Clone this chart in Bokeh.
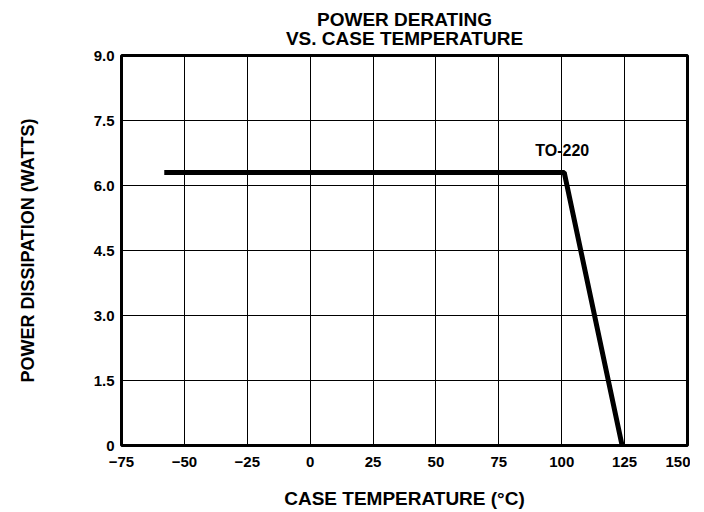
from bokeh.plotting import figure
from bokeh.models import FixedTicker, Title, Range1d
from bokeh.core.properties import value
from bokeh.embed import file_html
from bokeh.resources import INLINE

# data
temp_c = [-58, 101, 124]
power_w = [6.3, 6.3, 0.0]
series_label = "TO-220"
title_lines = ["POWER DERATING", "VS. CASE TEMPERATURE"]
x_ticks = [-75, -50, -25, 0, 25, 50, 75, 100, 125, 150]
y_ticks = [0, 1.5, 3.0, 4.5, 6.0, 7.5, 9.0]
y_tick_labels = ["0", "1.5", "3.0", "4.5", "6.0", "7.5", "9.0"]

FONT = "Liberation Sans"

p = figure(width=690, height=511, output_backend="svg", toolbar_location=None,
           x_range=Range1d(-75, 150), y_range=Range1d(0, 9),
           min_border_left=121, min_border_right=3, min_border_bottom=59, min_border_top=0)
p.background_fill_color = "white"
p.border_fill_color = "white"
p.outline_line_color = "black"
p.outline_line_width = 3

p.title = Title(text="\n".join(title_lines), align="center", text_align="center", text_font=FONT,
                text_font_size="19px", text_font_style="bold", text_color="black",
                text_line_height=0.9, standoff=13, offset=0)

for ax in (p.xaxis[0], p.yaxis[0]):
    ax.axis_line_color = None
    ax.major_tick_line_color = None
    ax.minor_tick_line_color = None
    ax.major_tick_out = 0
    ax.major_tick_in = 0
    ax.major_label_text_font = FONT
    ax.major_label_text_font_size = "15px"
    ax.major_label_text_font_style = "bold"
    ax.major_label_text_color = "black"

p.xaxis.ticker = FixedTicker(ticks=x_ticks)
p.yaxis.ticker = FixedTicker(ticks=y_ticks)
p.yaxis.major_label_overrides = {t: l for t, l in zip(y_ticks, y_tick_labels)}
p.xaxis.major_label_standoff = 11
p.yaxis.major_label_standoff = 7

p.xaxis.axis_label = "CASE TEMPERATURE (°C)"
p.xaxis.axis_label_text_font = FONT
p.xaxis.axis_label_text_font_size = "19px"
p.xaxis.axis_label_text_font_style = "bold"
p.xaxis.axis_label_text_color = "black"
p.xaxis.axis_label_standoff = 18

p.yaxis.axis_label = "POWER DISSIPATION (WATTS)"
p.yaxis.axis_label_text_font = FONT
p.yaxis.axis_label_text_font_size = "18px"
p.yaxis.axis_label_text_font_style = "bold"
p.yaxis.axis_label_text_color = "black"
p.yaxis.axis_label_standoff = 53

p.xgrid.grid_line_color = "black"
p.ygrid.grid_line_color = "black"
p.xgrid.grid_line_width = 1
p.ygrid.grid_line_width = 1
p.xgrid.grid_line_alpha = 1
p.ygrid.grid_line_alpha = 1

p.line(temp_c, power_w, line_color="black", line_width=5)
p.text(x=[temp_c[1]], y=[power_w[1]], text=[series_label], x_offset=-2, y_offset=-22,
       text_align="center", text_baseline="alphabetic", text_font=value(FONT),
       text_font_size="16px", text_font_style="bold", text_color="black")

open("out.html", "w").write(file_html(p, INLINE))
